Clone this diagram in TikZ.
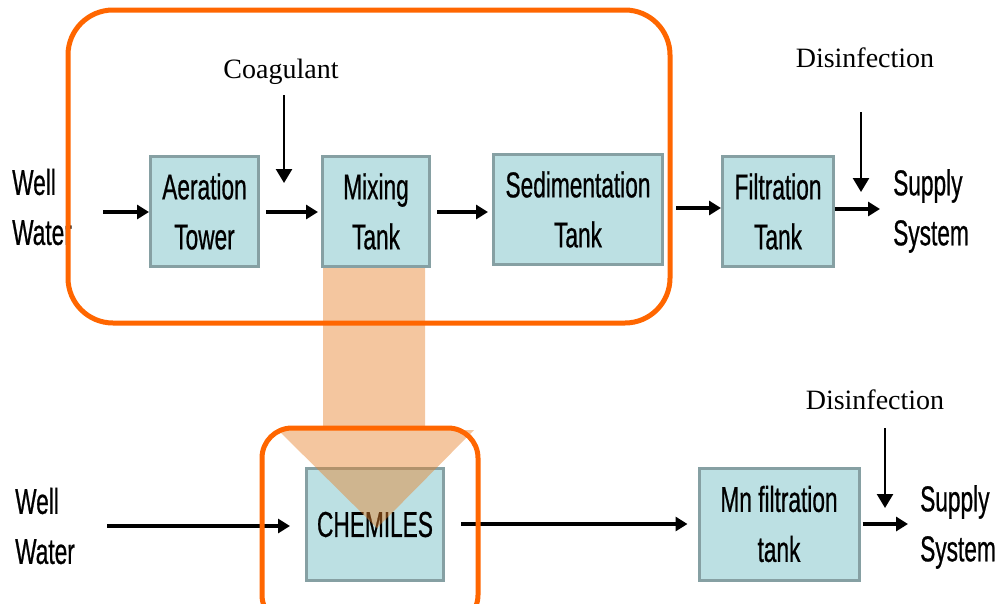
\documentclass[tikz,border=0pt]{standalone}
\usepackage{fontspec}
\setmainfont{Liberation Serif}
\newfontfamily\narrowsans{Liberation Sans}[FakeStretch=0.63, FakeBold=0.6]
\usepackage{xcolor}
\usetikzlibrary{arrows.meta}
\definecolor{tankblue}{RGB}{188,224,227}
\definecolor{tankedge}{RGB}{134,160,163}
\definecolor{frameorange}{RGB}{255,102,0}
\definecolor{shiftorange}{RGB}{231,129,42}
\tikzset{
  tank/.style={draw=tankedge, line width=3pt, fill=tankblue, align=center, inner sep=0pt,
    font=\narrowsans\fontsize{36}{50}\selectfont},
  label/.style={align=left, inner sep=0pt, font=\narrowsans\fontsize{36}{50}\selectfont},
  chemical/.style={inner sep=0pt, font=\fontsize{28}{30}\selectfont},
  flow/.style={line width=4.5pt, -{Triangle[length=12pt,width=14pt]}},
  dose/.style={line width=2.5pt, -{Triangle[length=14pt,width=16pt]}},
  frame/.style={draw=frameorange, line width=5pt},
}

\begin{document}
\begin{tikzpicture}[x=1pt, y=-1pt]
\useasboundingbox (0,0) rectangle (1000,603);
\clip (0,0) rectangle (1000,603);

% conventional plant
\node[label, anchor=west] (well1) at (12,207) {Well\\Water};
\node[tank, minimum width=108pt, minimum height=110pt] (aer) at (204.5,211.5) {Aeration\\Tower};
\node[tank, minimum width=107pt, minimum height=110pt] (mix) at (376,211.5) {Mixing\\Tank};
\node[tank, minimum width=169pt, minimum height=110pt] (sed) at (578,209.5) {Sedimentation\\Tank};
\node[tank, minimum width=111pt, minimum height=110pt] (filt) at (778,211.5) {Filtration\\Tank};
\node[label, anchor=west] (supply1) at (893,211) {Supply\\System};
\node[chemical] (coag) at (281,72) {Coagulant};
\node[chemical] (dis1) at (865,58) {Disinfection};

\coordinate (in1) at (103,212);
\coordinate (coagin) at (284,183);
\coordinate (dis1in) at (861,192);

\draw[flow] (in1) -- (in1 -| aer.west);
\draw[flow, shorten <=6pt, shorten >=3pt] (aer.east |- in1) -- (mix.west |- in1);
\draw[flow, shorten <=6pt, shorten >=4pt] (mix.east |- in1) -- (sed.west |- in1);
\draw[flow, shorten <=12pt] (sed.east |- 0,208) -- (filt.west |- 0,208);
\draw[flow, shorten >=13pt] (filt.east |- 0,209) -- (supply1.west |- 0,209);
\draw[dose] (coagin |- 0,95) -- (coagin);
\draw[dose] (dis1in |- 0,112) -- (dis1in);

% CHEMILES plant
\node[label, anchor=west] (well2) at (15,526) {Well\\Water};
\node[tank, minimum width=137pt, minimum height=112pt] (chem) at (375,524.5) {CHEMILES};
\node[tank, minimum width=160pt, minimum height=112pt] (mnf) at (779,524) {Mn filtration\\tank};
\node[label, anchor=west] (supply2) at (920,527) {Supply\\System};
\node[chemical] (dis2) at (875,400) {Disinfection};

\coordinate (in2) at (107,526);
\coordinate (dis2in) at (885,508);

\draw[flow, shorten >=15pt] (in2) -- (in2 -| chem.west);
\draw[flow, shorten <=16pt, shorten >=10pt] (chem.east |- 0,524) -- (mnf.west |- 0,524);
\draw[flow, shorten <=2pt, shorten >=12pt] (mnf.east |- 0,524) -- (supply2.west |- 0,524);
\draw[dose] (dis2in |- 0,428) -- (dis2in);

% replacement arrow
\fill[shiftorange, opacity=0.45] (323,268) -- (425,268) -- (425,430) -- (474,430)
  -- (377,528) -- (278,430) -- (323,430) -- cycle;

% frames
\draw[frame, rounded corners=45pt] (68,10) rectangle (670,323);
\draw[frame, rounded corners=30pt] (262,428) rectangle (478,625);
\end{tikzpicture}
\end{document}
